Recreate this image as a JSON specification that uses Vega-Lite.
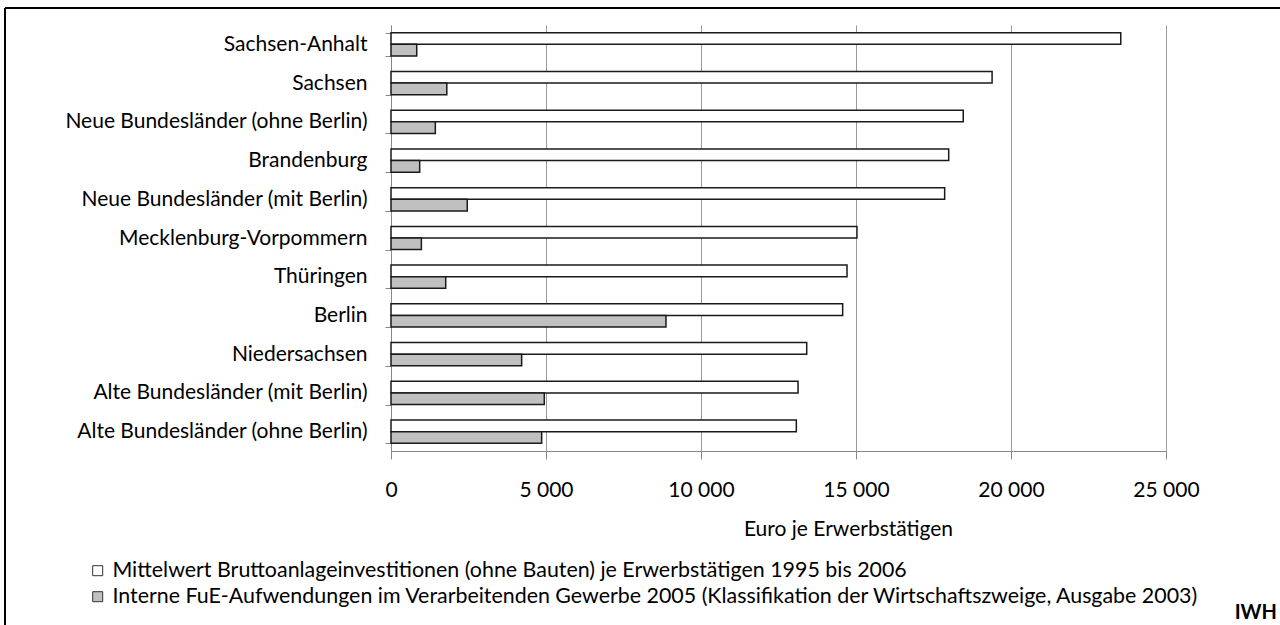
{
  "$schema": "https://vega.github.io/schema/vega-lite/v6.json",
  "width": 1275,
  "height": 617,
  "autosize": {"type": "none"},
  "padding": {"left": 5, "top": 8, "right": 0, "bottom": 0},
  "background": "white",
  "config": {
    "font": "Lato",
    "locale": {"number": {"decimal": ",", "thousands": " ", "grouping": [3], "currency": ["", " €"]}},
    "view": {"stroke": "black", "strokeWidth": 2, "strokeDash": [1275, 1892, 617, 0]}
  },
  "title": {"text": "IWH", "orient": "bottom", "anchor": "end", "frame": "group", "fontWeight": "bold", "fontSize": 20, "color": "black", "offset": -22, "dx": -3, "font": "Lato"},
  "data": {"values": [
    {"Land": "Sachsen-Anhalt", "Reihe": "Mittelwert Bruttoanlageinvestitionen (ohne Bauten) je Erwerbstätigen 1995 bis 2006", "Wert": 23540},
    {"Land": "Sachsen-Anhalt", "Reihe": "Interne FuE-Aufwendungen im Verarbeitenden Gewerbe 2005 (Klassifikation der Wirtschaftszweige, Ausgabe 2003)", "Wert": 830},
    {"Land": "Sachsen", "Reihe": "Mittelwert Bruttoanlageinvestitionen (ohne Bauten) je Erwerbstätigen 1995 bis 2006", "Wert": 19390},
    {"Land": "Sachsen", "Reihe": "Interne FuE-Aufwendungen im Verarbeitenden Gewerbe 2005 (Klassifikation der Wirtschaftszweige, Ausgabe 2003)", "Wert": 1800},
    {"Land": "Neue Bundesländer (ohne Berlin)", "Reihe": "Mittelwert Bruttoanlageinvestitionen (ohne Bauten) je Erwerbstätigen 1995 bis 2006", "Wert": 18460},
    {"Land": "Neue Bundesländer (ohne Berlin)", "Reihe": "Interne FuE-Aufwendungen im Verarbeitenden Gewerbe 2005 (Klassifikation der Wirtschaftszweige, Ausgabe 2003)", "Wert": 1430},
    {"Land": "Brandenburg", "Reihe": "Mittelwert Bruttoanlageinvestitionen (ohne Bauten) je Erwerbstätigen 1995 bis 2006", "Wert": 17990},
    {"Land": "Brandenburg", "Reihe": "Interne FuE-Aufwendungen im Verarbeitenden Gewerbe 2005 (Klassifikation der Wirtschaftszweige, Ausgabe 2003)", "Wert": 925},
    {"Land": "Neue Bundesländer (mit Berlin)", "Reihe": "Mittelwert Bruttoanlageinvestitionen (ohne Bauten) je Erwerbstätigen 1995 bis 2006", "Wert": 17860},
    {"Land": "Neue Bundesländer (mit Berlin)", "Reihe": "Interne FuE-Aufwendungen im Verarbeitenden Gewerbe 2005 (Klassifikation der Wirtschaftszweige, Ausgabe 2003)", "Wert": 2460},
    {"Land": "Mecklenburg-Vorpommern", "Reihe": "Mittelwert Bruttoanlageinvestitionen (ohne Bauten) je Erwerbstätigen 1995 bis 2006", "Wert": 15030},
    {"Land": "Mecklenburg-Vorpommern", "Reihe": "Interne FuE-Aufwendungen im Verarbeitenden Gewerbe 2005 (Klassifikation der Wirtschaftszweige, Ausgabe 2003)", "Wert": 980},
    {"Land": "Thüringen", "Reihe": "Mittelwert Bruttoanlageinvestitionen (ohne Bauten) je Erwerbstätigen 1995 bis 2006", "Wert": 14710},
    {"Land": "Thüringen", "Reihe": "Interne FuE-Aufwendungen im Verarbeitenden Gewerbe 2005 (Klassifikation der Wirtschaftszweige, Ausgabe 2003)", "Wert": 1765},
    {"Land": "Berlin", "Reihe": "Mittelwert Bruttoanlageinvestitionen (ohne Bauten) je Erwerbstätigen 1995 bis 2006", "Wert": 14570},
    {"Land": "Berlin", "Reihe": "Interne FuE-Aufwendungen im Verarbeitenden Gewerbe 2005 (Klassifikation der Wirtschaftszweige, Ausgabe 2003)", "Wert": 8870},
    {"Land": "Niedersachsen", "Reihe": "Mittelwert Bruttoanlageinvestitionen (ohne Bauten) je Erwerbstätigen 1995 bis 2006", "Wert": 13410},
    {"Land": "Niedersachsen", "Reihe": "Interne FuE-Aufwendungen im Verarbeitenden Gewerbe 2005 (Klassifikation der Wirtschaftszweige, Ausgabe 2003)", "Wert": 4215},
    {"Land": "Alte Bundesländer (mit Berlin)", "Reihe": "Mittelwert Bruttoanlageinvestitionen (ohne Bauten) je Erwerbstätigen 1995 bis 2006", "Wert": 13130},
    {"Land": "Alte Bundesländer (mit Berlin)", "Reihe": "Interne FuE-Aufwendungen im Verarbeitenden Gewerbe 2005 (Klassifikation der Wirtschaftszweige, Ausgabe 2003)", "Wert": 4945},
    {"Land": "Alte Bundesländer (ohne Berlin)", "Reihe": "Mittelwert Bruttoanlageinvestitionen (ohne Bauten) je Erwerbstätigen 1995 bis 2006", "Wert": 13075},
    {"Land": "Alte Bundesländer (ohne Berlin)", "Reihe": "Interne FuE-Aufwendungen im Verarbeitenden Gewerbe 2005 (Klassifikation der Wirtschaftszweige, Ausgabe 2003)", "Wert": 4860}
  ]},
  "encoding": {
    "y": {
      "field": "Land", "type": "nominal", "sort": null,
      "scale": {"range": [17, 443], "paddingInner": 0.4, "paddingOuter": 0.2},
      "axis": {"title": null, "offset": -386, "tickBand": "extent", "domainColor": "#888888", "tickColor": "#888888", "tickSize": 6, "labelFontSize": 21, "labelColor": "black", "labelPadding": 18, "labelLimit": 0, "grid": false}
    },
    "yOffset": {"field": "Reihe", "type": "nominal", "sort": null, "scale": {"paddingInner": 0, "paddingOuter": 0}}
  },
  "layer": [
    {
      "mark": {"type": "bar", "opacity": 0},
      "encoding": {
        "x": {
          "field": "Wert", "type": "quantitative",
          "scale": {"domain": [0, 25000], "range": [386, 1161], "nice": false},
          "axis": {"orient": "top", "title": null, "values": [0, 5000, 10000, 15000, 20000, 25000], "grid": true, "gridColor": "#999999", "gridWidth": 1, "domain": false, "ticks": false, "labels": false}
        }
      }
    },
    {
      "mark": {"type": "bar", "stroke": "#1a1a1a", "strokeWidth": 1.5},
      "encoding": {
        "x": {
          "field": "Wert", "type": "quantitative",
          "axis": {"orient": "bottom", "title": "Euro je Erwerbstätigen", "offset": -174, "values": [0, 5000, 10000, 15000, 20000, 25000], "format": ",d", "grid": false, "labelFlush": false, "domainColor": "#888888", "tickColor": "#888888", "tickSize": 8, "labelFontSize": 21, "labelPadding": 20, "labelColor": "black", "titleFontSize": 21, "titleFontWeight": "normal", "titlePadding": 18, "titleColor": "black", "titleX": 843, "titleAlign": "center"}
        },
        "fill": {
          "field": "Reihe", "type": "nominal", "sort": null,
          "scale": {"range": ["white", "#c0c0c0"]},
          "legend": {"title": null, "orient": "none", "legendX": 82, "legendY": 552, "direction": "vertical", "symbolType": "square", "symbolSize": 100, "symbolStrokeColor": "#333333", "symbolStrokeWidth": 1, "labelFontSize": 21.4, "labelLimit": 0, "rowPadding": 3, "labelOffset": 4, "padding": 0, "labelColor": "black"}
        }
      }
    }
  ],
  "resolve": {"axis": {"x": "independent"}}
}
